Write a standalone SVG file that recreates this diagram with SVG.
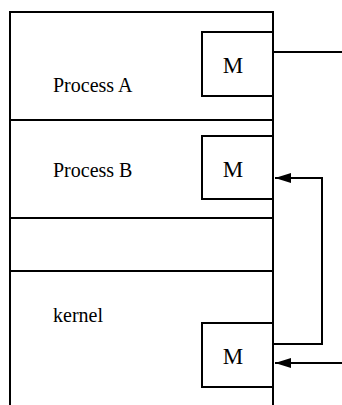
<svg xmlns="http://www.w3.org/2000/svg" width="342" height="405" viewBox="0 0 342 405">
<style>
.ln{stroke:#000;stroke-width:2;fill:none}
.lbl{font-size:20px;fill:#000}
.m{font-size:23px;fill:#000;text-anchor:middle}
</style>
<defs>
<marker id="ah" markerWidth="16" markerHeight="10" refX="16" refY="5" orient="auto" markerUnits="userSpaceOnUse">
<path d="M0,0 L16,5 L0,10 Z" fill="#000"/>
</marker>
</defs>
<g id="frame">
<path class="ln" d="M10,405 V12 H273 V405"/>
</g>
<g id="processA">
<text class="lbl" font-family="Liberation Serif, Times New Roman, serif" x="53" y="92">Process A</text>
</g>
<g id="processB">
<path class="ln" d="M10,120 H273"/>
<text class="lbl" font-family="Liberation Serif, Times New Roman, serif" x="53" y="177">Process B</text>
</g>
<g id="gap">
<path class="ln" d="M10,218 H273"/>
</g>
<g id="kernel">
<path class="ln" d="M10,271 H273"/>
<text class="lbl" font-family="Liberation Serif, Times New Roman, serif" x="53" y="322">kernel</text>
</g>
<g id="mA">
<path class="ln" d="M273,32 H202 V96 H273"/>
<text class="m" font-family="Liberation Serif, Times New Roman, serif" x="233" y="73">M</text>
</g>
<g id="mB">
<path class="ln" d="M273,136 H202 V199 H273"/>
<text class="m" font-family="Liberation Serif, Times New Roman, serif" x="233" y="177">M</text>
</g>
<g id="mK">
<path class="ln" d="M273,323 H202 V387 H273"/>
<text class="m" font-family="Liberation Serif, Times New Roman, serif" x="233" y="364">M</text>
</g>
<g id="connectors">
<path class="ln" d="M273,52 H342"/>
<path class="ln" d="M273,344 H322 V178 H275" marker-end="url(#ah)"/>
<path class="ln" d="M342,363 H275" marker-end="url(#ah)"/>
</g>
</svg>
